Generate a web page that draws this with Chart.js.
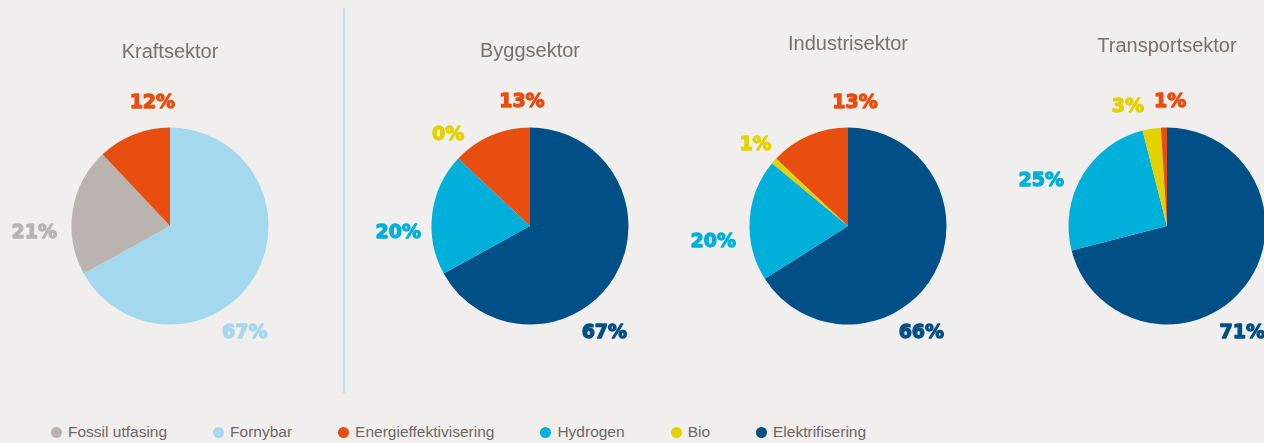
<!DOCTYPE html>
<html lang="no">
<head>
    <meta charset="UTF-8">
    <title>Sektorer</title>
    <script src="https://cdn.jsdelivr.net/npm/chart.js"></script>
    <style>
        body { margin: 0; background: #f0efed; font-family: "Liberation Sans", Arial, sans-serif; }
        #wrap { position: relative; width: 1264px; height: 443px; overflow: hidden; }
        .pie { position: absolute; top: 0; }
        .title { position: absolute; width: 240px; text-align: center; font-size: 20px; line-height: 24px; color: #7a706c; }
        #divider { position: absolute; left: 343px; top: 8px; width: 2px; height: 385px; background: #c3e2ef; }
        #legend { position: absolute; left: 51px; top: 423px; display: flex; gap: 46px; font-size: 15.5px; color: #6f6764; }
        #legend span.item { display: flex; align-items: center; }
        #legend span.dot { width: 11px; height: 11px; border-radius: 50%; margin-right: 6px; display: inline-block; }
    </style>
</head>
<body>
<div id="wrap">
    <div id="divider"></div>
    <div id="legend"></div>
</div>

<script>
    // data
    const categories = ["Fossil utfasing", "Fornybar", "Energieffektivisering", "Hydrogen", "Bio", "Elektrifisering"];
    const sectors = ["Kraftsektor", "Byggsektor", "Industrisektor", "Transportsektor"];
    const kraftValues     = [21, 67, 12, null, null, null];
    const byggValues      = [null, null, 13, 20, 0, 67];
    const industriValues  = [null, null, 13, 20, 1, 66];
    const transportValues = [null, null, 1, 25, 3, 71];
    const sectorValues = [kraftValues, byggValues, industriValues, transportValues];

    const colors = ["#bab3b0", "#a4d8ee", "#e84e0f", "#00b0da", "#e3d200", "#004f86"];

    // slice order clockwise from 12 o'clock (category indices)
    const drawOrder = [1, 0, 5, 3, 4, 2];

    // layout
    const pieX = [170, 530, 848, 1167];
    const pieY = 226;
    const pieR = 98.5;
    const canvasW = 320, canvasH = 443;
    const titleTop = [39, 38, 31, 33];
    // label offsets per category, in units of the outer radius
    const labelOffsets = [
        { 0: [-1.378, 0.071], 1: [0.760, 1.092], 2: [-0.179, -1.245] },
        { 2: [-0.082, -1.255], 3: [-1.337, 0.071], 4: [-0.832, -0.919], 5: [0.755, 1.092] },
        { 2: [0.071, -1.245], 3: [-1.367, 0.163], 4: [-0.939, -0.817], 5: [0.745, 1.092] },
        { 2: [0.031, -1.255], 3: [-1.276, -0.459], 4: [-0.398, -1.204], 5: [0.765, 1.092] }
    ];

    const wrap = document.getElementById("wrap");

    const pctLabels = {
        id: "pctLabels",
        afterDatasetsDraw(chart) {
            const ctx = chart.ctx;
            const meta = chart.getDatasetMeta(0);
            const ds = chart.data.datasets[0];
            const offs = chart.options.plugins.pctLabels.offsets;
            ctx.save();
            ctx.font = "bold 19px 'DejaVu Sans', sans-serif";
            ctx.textAlign = "center";
            ctx.textBaseline = "middle";
            ctx.lineWidth = 1.3;
            ctx.lineJoin = "round";
            meta.data.forEach((arc, i) => {
                const v = ds.data[i];
                const cat = ds.catIdx[i];
                if (v === null || !offs[cat]) return;
                const p = arc.getProps(["x", "y", "outerRadius"], true);
                const tx = p.x + offs[cat][0] * p.outerRadius;
                const ty = p.y + offs[cat][1] * p.outerRadius;
                ctx.fillStyle = colors[cat];
                ctx.strokeStyle = colors[cat];
                ctx.fillText(v + "%", tx, ty);
                ctx.strokeText(v + "%", tx, ty);
            });
            ctx.restore();
        }
    };

    sectors.forEach((name, s) => {
        const canvas = document.createElement("canvas");
        canvas.className = "pie";
        canvas.width = canvasW;
        canvas.height = canvasH;
        canvas.style.left = (pieX[s] - canvasW / 2) + "px";
        wrap.appendChild(canvas);

        const title = document.createElement("div");
        title.className = "title";
        title.textContent = name;
        title.style.left = (pieX[s] - 120) + "px";
        title.style.top = titleTop[s] + "px";
        wrap.appendChild(title);

        const vals = sectorValues[s];
        new Chart(canvas, {
            type: "pie",
            data: {
                labels: drawOrder.map(i => categories[i]),
                datasets: [{
                    data: drawOrder.map(i => vals[i]),
                    catIdx: drawOrder,
                    backgroundColor: drawOrder.map(i => colors[i]),
                    borderWidth: 0
                }]
            },
            options: {
                responsive: false,
                animation: false,
                layout: {
                    padding: {
                        top: pieY - pieR,
                        bottom: canvasH - pieY - pieR,
                        left: canvasW / 2 - pieR,
                        right: canvasW / 2 - pieR
                    }
                },
                plugins: {
                    legend: { display: false },
                    tooltip: { enabled: false },
                    pctLabels: { offsets: labelOffsets[s] }
                }
            },
            plugins: [pctLabels]
        });
    });

    const legend = document.getElementById("legend");
    categories.forEach((c, i) => {
        const item = document.createElement("span");
        item.className = "item";
        item.innerHTML = '<span class="dot" style="background:' + colors[i] + '"></span>' + c;
        legend.appendChild(item);
    });
</script>
</body>
</html>
